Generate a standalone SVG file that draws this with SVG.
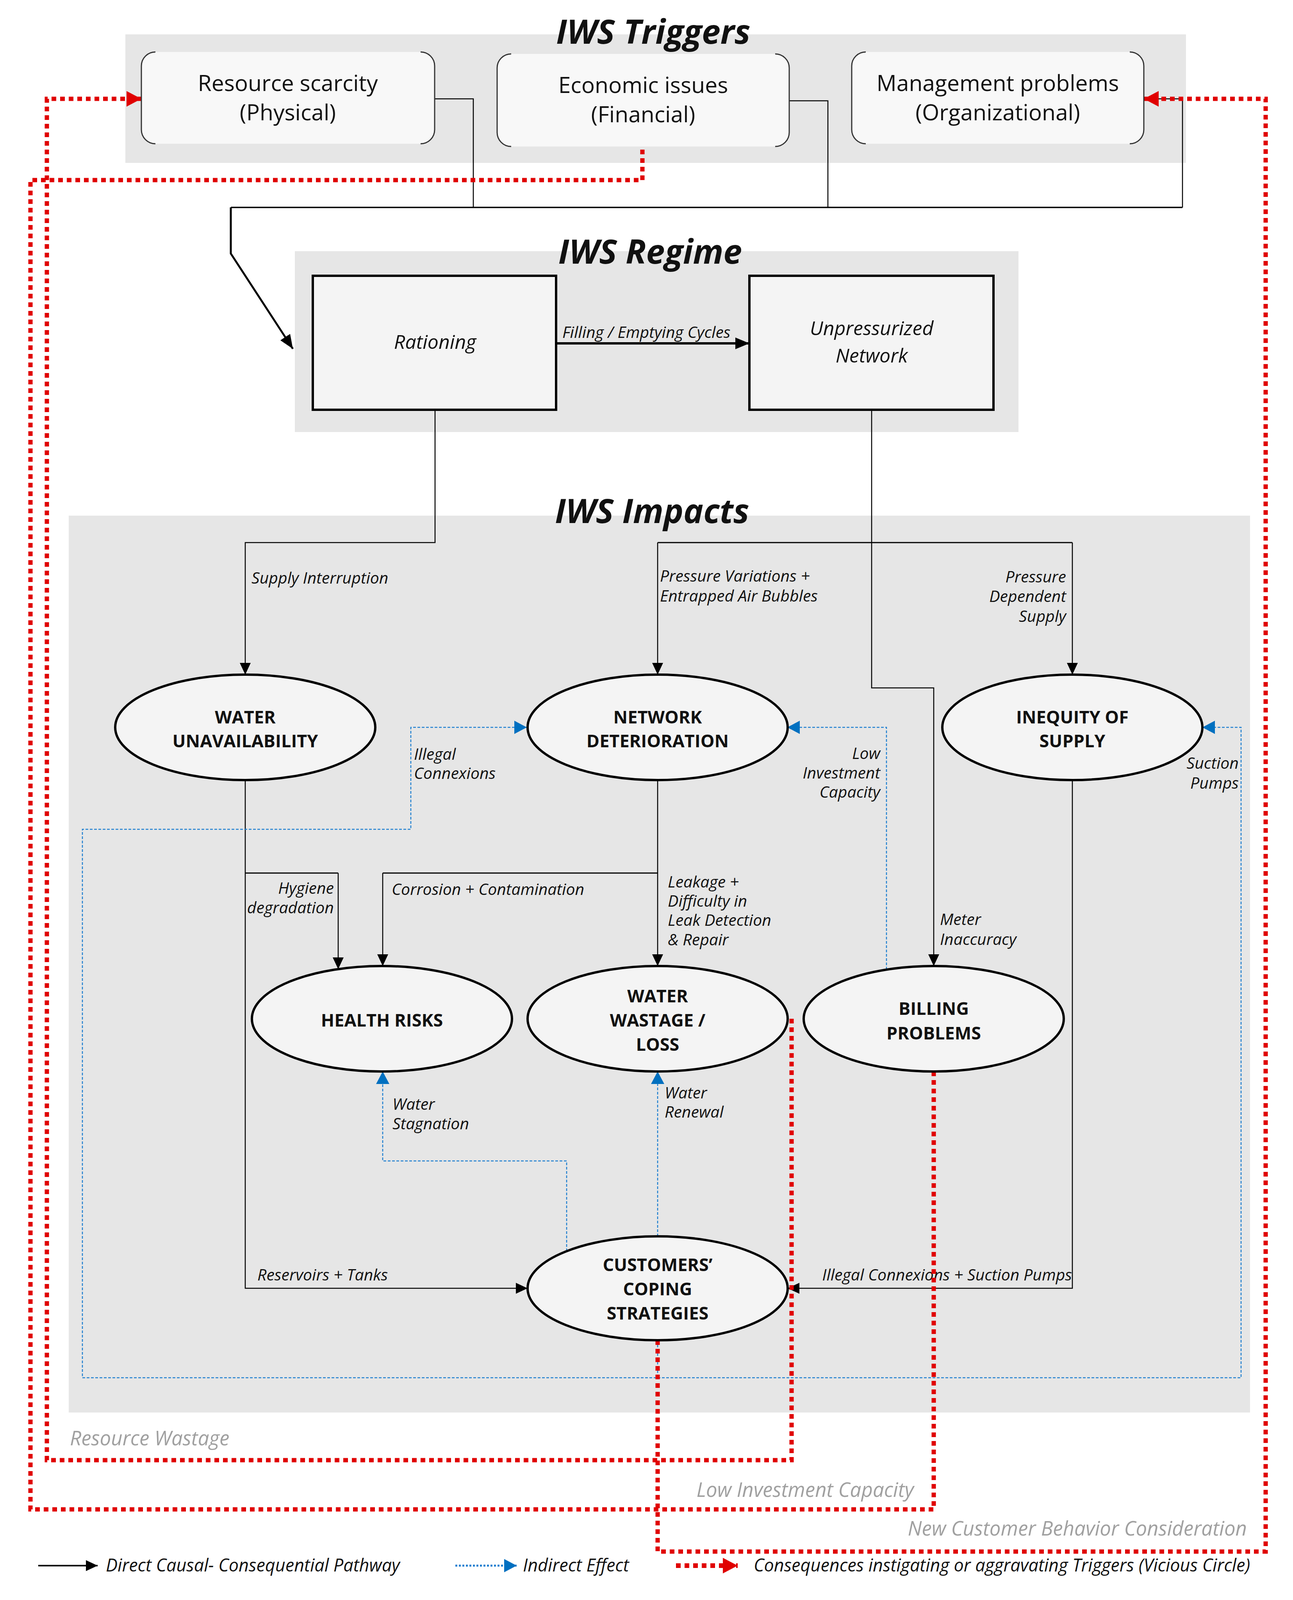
<svg xmlns="http://www.w3.org/2000/svg" width="3311" height="4201" viewBox="0 0 3311 4201">
<style>
text{font-family:"Open Sans","Liberation Sans",sans-serif;fill:#111}
.title{font-size:86px;font-weight:bold;font-style:italic;text-anchor:middle}
.trig{font-size:57px;text-anchor:middle}
.reg{font-size:50px;font-style:italic;text-anchor:middle}
.node{font-size:45px;font-weight:bold;text-anchor:middle}
.lbl{font-size:41px;font-style:italic}
.end{text-anchor:end}
.gray{font-size:51px;font-style:italic;fill:#a0a0a0}
.leg{font-size:45px;font-style:italic}
.panel{fill:#e6e6e6}
.tbox{fill:#f8f8f8}
.tbr{fill:none;stroke:#333;stroke-width:3}
.rbox{fill:#f4f4f4;stroke:#000;stroke-width:6}
.ell{fill:#f4f4f4;stroke:#000;stroke-width:6}
.blk{fill:none;stroke:#000;stroke-width:2.5}
.blu{fill:none;stroke:#1f7fd0;stroke-width:2.5;stroke-dasharray:7 4}
.red{fill:none;stroke:#e00000;stroke-width:11;stroke-dasharray:12 10}
</style>
<defs>
<marker id="ab" markerUnits="userSpaceOnUse" markerWidth="30" markerHeight="28" refX="30" refY="14" orient="auto"><path d="M0,0 L30,14 L0,28 z" fill="#000"/></marker>
<marker id="abig" markerUnits="userSpaceOnUse" markerWidth="36" markerHeight="30" refX="36" refY="15" orient="auto"><path d="M0,0 L36,15 L0,30 z" fill="#000"/></marker>
<marker id="bl" markerUnits="userSpaceOnUse" markerWidth="32" markerHeight="34" refX="32" refY="17" orient="auto"><path d="M0,0 L32,17 L0,34 z" fill="#0070c0"/></marker>
<marker id="rd" markerUnits="userSpaceOnUse" markerWidth="38" markerHeight="40" refX="38" refY="20" orient="auto"><path d="M0,0 L38,20 L0,40 z" fill="#e00000"/></marker>
</defs>

<rect width="3311" height="4201" fill="#fff"/>

<!-- panels -->
<g id="panel-triggers"><rect class="panel" x="321" y="88" width="2716" height="329"/></g>
<g id="panel-regime"><rect class="panel" x="755" y="643" width="1853" height="463"/></g>
<g id="panel-impacts"><rect class="panel" x="176" y="1320" width="3025" height="2296"/></g>

<text class="title" x="1673" y="112">IWS Triggers</text>
<text class="title" x="1665" y="675">IWS Regime</text>
<text class="title" x="1670" y="1339">IWS Impacts</text>

<!-- connectors -->
<g id="connectors">
<path class="blk" d="M1113 253 H1212 V531"/>
<path class="blk" d="M2021 258 H2120 V531"/>
<path class="blk" d="M2929 253 H3028 V531"/>
<path class="blk" style="stroke-width:3.5" d="M3028 531 H591"/>
<path class="blk" style="stroke-width:5" d="M591 531 V649 L750 893" marker-end="url(#abig)"/>
<path class="blk" style="stroke-width:6" d="M1424 879 H1919" marker-end="url(#abig)"/>
<path class="blk" d="M1114 1049 V1389 H628 V1727" marker-end="url(#ab)"/>
<path class="blk" d="M2232 1049 V1761 H2391 V2473" marker-end="url(#ab)"/>
<path class="blk" style="stroke-width:3" d="M1684 1389 H2746"/>
<path class="blk" d="M1684 1389 V1727" marker-end="url(#ab)"/>
<path class="blk" d="M2746 1389 V1727" marker-end="url(#ab)"/>
<path class="blk" d="M628 1997 V3298 H1351" marker-end="url(#ab)"/>
<path class="blk" style="stroke-width:3" d="M628 2235 H866"/>
<path class="blk" d="M866 2235 V2481" marker-end="url(#ab)"/>
<path class="blk" d="M1684 1997 V2473" marker-end="url(#ab)"/>
<path class="blk" style="stroke-width:3" d="M1684 2235 H980"/>
<path class="blk" d="M980 2235 V2473" marker-end="url(#ab)"/>
<path class="blk" d="M2746 1997 V3298 H2017" marker-end="url(#ab)"/>

<path class="blu" d="M1684 3431 V3527 H211 V2123 H1052 V1862 H1349" marker-end="url(#bl)"/>
<path class="blu" d="M1684 3527 H3178 V1862 H3079" marker-end="url(#bl)"/>
<path class="blu" d="M2270 2482 V1862 H2016" marker-end="url(#bl)"/>
<path class="blu" d="M1451 3203 V2972 H980 V2743" marker-end="url(#bl)"/>
<path class="blu" d="M1684 3165 V2743" marker-end="url(#bl)"/>

<text class="lbl" x="1440" y="865">Filling / Emptying Cycles</text>
<text class="lbl" x="644" y="1494">Supply Interruption</text>
<text class="lbl" x="1690" y="1489">Pressure Variations +</text>
<text class="lbl" x="1690" y="1540">Entrapped Air Bubbles</text>
<text class="lbl end" x="2730" y="1491">Pressure</text>
<text class="lbl end" x="2730" y="1541">Dependent</text>
<text class="lbl end" x="2730" y="1592">Supply</text>
<text class="lbl" x="1060" y="1945">Illegal</text>
<text class="lbl" x="1060" y="1994">Connexions</text>
<text class="lbl end" x="2254" y="1943">Low</text>
<text class="lbl end" x="2254" y="1993">Investment</text>
<text class="lbl end" x="2254" y="2042">Capacity</text>
<text class="lbl end" x="3172" y="1968">Suction</text>
<text class="lbl end" x="3172" y="2019">Pumps</text>
<text class="lbl end" x="855" y="2288">Hygiene</text>
<text class="lbl end" x="855" y="2338">degradation</text>
<text class="lbl" x="1003" y="2291">Corrosion + Contamination</text>
<text class="lbl" x="1710" y="2272">Leakage +</text>
<text class="lbl" x="1710" y="2321">Difficulty in</text>
<text class="lbl" x="1710" y="2370">Leak Detection</text>
<text class="lbl" x="1710" y="2420">&amp; Repair</text>
<text class="lbl" x="2407" y="2368">Meter</text>
<text class="lbl" x="2407" y="2419">Inaccuracy</text>
<text class="lbl" x="1005" y="2841">Water</text>
<text class="lbl" x="1005" y="2891">Stagnation</text>
<text class="lbl" x="1702" y="2812">Water</text>
<text class="lbl" x="1702" y="2861">Renewal</text>
<text class="lbl" x="659" y="3278">Reservoirs + Tanks</text>
<text class="lbl end" x="2745" y="3278">Illegal Connexions + Suction Pumps</text>

<text class="gray" x="179" y="3700">Resource Wastage</text>
<text class="gray end" x="2340" y="3832">Low Investment Capacity</text>
<text class="gray end" x="3193" y="3931">New Customer Behavior Consideration</text>

<path class="red" d="M2027 2608 V3738 H120 V253 H362" marker-end="url(#rd)"/>
<path class="red" d="M2391 2743 V3864 H78 V461 H1645 V375"/>
<path class="red" d="M1684 3431 V3972 H3241 V253 H2929" marker-end="url(#rd)"/>
</g>

<!-- trigger nodes -->
<g id="node-resource">
<rect class="tbox" x="362" y="133" width="751" height="235" rx="36"/>
<path class="tbr" d="M398 133 A36 36 0 0 0 362 169 V332 A36 36 0 0 0 398 368 M1077 133 A36 36 0 0 1 1113 169 V332 A36 36 0 0 1 1077 368"/>
<text class="trig" x="737" y="233">Resource scarcity</text>
<text class="trig" x="737" y="308">(Physical)</text>
</g>
<g id="node-economic">
<rect class="tbox" x="1273" y="138" width="748" height="237" rx="36"/>
<path class="tbr" d="M1309 138 A36 36 0 0 0 1273 174 V339 A36 36 0 0 0 1309 375 M1985 138 A36 36 0 0 1 2021 174 V339 A36 36 0 0 1 1985 375"/>
<text class="trig" x="1647" y="238">Economic issues</text>
<text class="trig" x="1647" y="313">(Financial)</text>
</g>
<g id="node-management">
<rect class="tbox" x="2181" y="133" width="748" height="235" rx="36"/>
<path class="tbr" d="M2217 133 A36 36 0 0 0 2181 169 V332 A36 36 0 0 0 2217 368 M2893 133 A36 36 0 0 1 2929 169 V332 A36 36 0 0 1 2893 368"/>
<text class="trig" x="2555" y="233">Management problems</text>
<text class="trig" x="2555" y="308">(Organizational)</text>
</g>

<!-- regime nodes -->
<g id="node-rationing">
<rect class="rbox" x="801" y="706" width="623" height="343"/>
<text class="reg" x="1114" y="893">Rationing</text>
</g>
<g id="node-unpressurized">
<rect class="rbox" x="1919" y="706" width="625" height="343"/>
<text class="reg" x="2232" y="858">Unpressurized</text>
<text class="reg" x="2232" y="928">Network</text>
</g>

<!-- impact nodes -->
<g id="node-water-unavailability">
<ellipse class="ell" cx="628" cy="1862" rx="333" ry="135"/>
<text class="node" x="628" y="1852">WATER</text>
<text class="node" x="628" y="1913">UNAVAILABILITY</text>
</g>
<g id="node-network-deterioration">
<ellipse class="ell" cx="1684" cy="1862" rx="333" ry="135"/>
<text class="node" x="1684" y="1852">NETWORK</text>
<text class="node" x="1684" y="1913">DETERIORATION</text>
</g>
<g id="node-inequity">
<ellipse class="ell" cx="2746" cy="1862" rx="333" ry="135"/>
<text class="node" x="2746" y="1852">INEQUITY OF</text>
<text class="node" x="2746" y="1913">SUPPLY</text>
</g>
<g id="node-health-risks">
<ellipse class="ell" cx="978" cy="2608" rx="333" ry="135"/>
<text class="node" x="978" y="2628">HEALTH RISKS</text>
</g>
<g id="node-water-wastage">
<ellipse class="ell" cx="1684" cy="2608" rx="333" ry="135"/>
<text class="node" x="1684" y="2566">WATER</text>
<text class="node" x="1684" y="2628">WASTAGE /</text>
<text class="node" x="1684" y="2690">LOSS</text>
</g>
<g id="node-billing">
<ellipse class="ell" cx="2391" cy="2608" rx="333" ry="135"/>
<text class="node" x="2391" y="2598">BILLING</text>
<text class="node" x="2391" y="2661">PROBLEMS</text>
</g>
<g id="node-coping">
<ellipse class="ell" cx="1684" cy="3298" rx="333" ry="133"/>
<text class="node" x="1684" y="3254">CUSTOMERS’</text>
<text class="node" x="1684" y="3316">COPING</text>
<text class="node" x="1684" y="3378">STRATEGIES</text>
</g>

<!-- legend -->
<g id="legend">
<path class="blk" style="stroke-width:4" d="M98 4008 H250" marker-end="url(#ab)"/>
<text class="leg" x="271" y="4023">Direct Causal- Consequential Pathway</text>
<path class="blu" style="stroke-width:5;stroke-dasharray:5 4" d="M1166 4008 H1323" marker-end="url(#bl)"/>
<text class="leg" x="1339" y="4023">Indirect Effect</text>
<path class="red" style="stroke-width:12" d="M1731 4008 H1889" marker-end="url(#rd)"/>
<text class="leg" x="1930" y="4023">Consequences instigating or aggravating Triggers (Vicious Circle)</text>
</g>
</svg>
